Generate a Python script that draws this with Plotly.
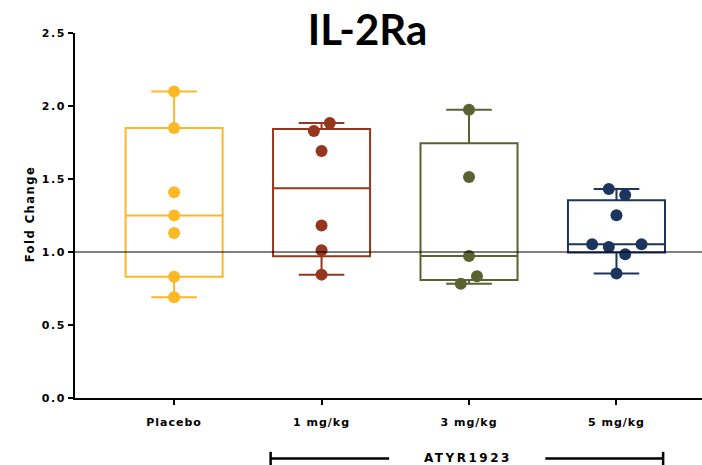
import numpy as np
import plotly.graph_objects as go

# ---- data ----
categories = ["Placebo", "1 mg/kg", "3 mg/kg", "5 mg/kg"]
placebo = [2.10, 1.85, 1.41, 1.25, 1.13, 0.83, 0.69]
dose_1 = [1.884, 1.829, 1.692, 1.181, 1.012, 0.845]
dose_3 = [1.975, 1.514, 0.973, 0.834, 0.783]
dose_5 = [1.432, 1.390, 1.251, 1.053, 1.053, 1.034, 0.984, 0.852]
groups = [placebo, dose_1, dose_3, dose_5]
# horizontal dodge of overlapping dots (category units)
dodge = [
    [0, 0, 0, 0, 0, 0, 0],
    [0.056, -0.052, 0, 0, 0, 0],
    [0, 0, 0, 0.054, -0.056],
    [-0.052, 0.059, 0, -0.165, 0.17, -0.052, 0.059, 0],
]
colors = ["#FDB827", "#97361F", "#5A6232", "#1C355E"]
ytickvals = [0.0, 0.5, 1.0, 1.5, 2.0, 2.5]
yticktext = ["0.0", "0.5", "1.0", "1.5", "2.0", "2.5"]


def spaced(t, px):
    return '<span style="letter-spacing:%spx">%s</span>' % (px, t)


fig = go.Figure()

for i, (vals, col) in enumerate(zip(groups, colors)):
    v = np.array(vals)
    q1, med, q3 = np.percentile(v, [25, 50, 75], method="weibull")
    fig.add_trace(go.Box(
        x=[i], q1=[q1], median=[med], q3=[q3],
        lowerfence=[v.min()], upperfence=[v.max()],
        width=0.658, whiskerwidth=0.47,
        line=dict(color=col, width=2),
        fillcolor="rgba(255,255,255,0)",
        boxpoints=False, showlegend=False, hoverinfo="skip",
    ))
    fig.add_trace(go.Scatter(
        x=[i + d for d in dodge[i]], y=vals, mode="markers",
        marker=dict(color=col, size=12, line=dict(width=0)),
        showlegend=False,
    ))

font_family = "DejaVu Sans"

fig.add_hline(y=1.0, line=dict(color="black", width=1))

# ATYR1923 bracket (paper coordinates)
by = -0.1655
shapes = [
    dict(type="line", xref="paper", yref="paper", x0=0.312, x1=0.501, y0=by, y1=by,
         line=dict(color="black", width=2.5)),
    dict(type="line", xref="paper", yref="paper", x0=0.750, x1=0.938, y0=by, y1=by,
         line=dict(color="black", width=2.5)),
    dict(type="line", xref="paper", yref="paper", x0=0.312, x1=0.312, y0=by + 0.018, y1=by - 0.018,
         line=dict(color="black", width=2.5)),
    dict(type="line", xref="paper", yref="paper", x0=0.938, x1=0.938, y0=by + 0.018, y1=by - 0.018,
         line=dict(color="black", width=2.5)),
]
for s in shapes:
    fig.add_shape(**s)

fig.add_annotation(text=spaced("ATYR1923", 2.5), xref="paper", yref="paper", x=0.626, y=by,
                   showarrow=False, xanchor="center", yanchor="middle",
                   font=dict(family=font_family, size=12, color="black", weight="bold"))
fig.add_annotation(text=spaced("Fold Change", 1.5), xref="paper", yref="paper", x=-0.0718, y=0.506,
                   textangle=-90, showarrow=False, xanchor="center", yanchor="middle",
                   font=dict(family=font_family, size=11.5, color="black", weight="bold"))

fig.update_layout(
    width=702, height=465,
    margin=dict(l=75, r=0, t=32.7, b=67.3),
    plot_bgcolor="white", paper_bgcolor="white",
    title=dict(text="IL-2Ra", x=367.5 / 702, xanchor="center", y=1 - 30 / 465,
               yanchor="middle", yref="container",
               font=dict(family="Lato", size=42, color="black", weight="bold")),
    xaxis=dict(range=[-0.672, 3.58], tickvals=[0, 1, 2, 3],
               ticktext=[spaced(c, 1) for c in categories],
               showgrid=False, zeroline=False, showline=True, linecolor="black", linewidth=2,
               ticks="outside", ticklen=5, tickwidth=2, tickcolor="black",
               ticklabelstandoff=8,
               tickfont=dict(family=font_family, size=11, color="black", weight="bold")),
    yaxis=dict(range=[0, 2.5], tickvals=ytickvals,
               ticktext=[spaced(t, 1.5) for t in yticktext],
               showgrid=False, zeroline=False, showline=True, linecolor="black", linewidth=2,
               ticks="outside", ticklen=5, tickwidth=2, tickcolor="black",
               tickfont=dict(family=font_family, size=11, color="black", weight="bold")),
)

fig.write_html("out.html")
